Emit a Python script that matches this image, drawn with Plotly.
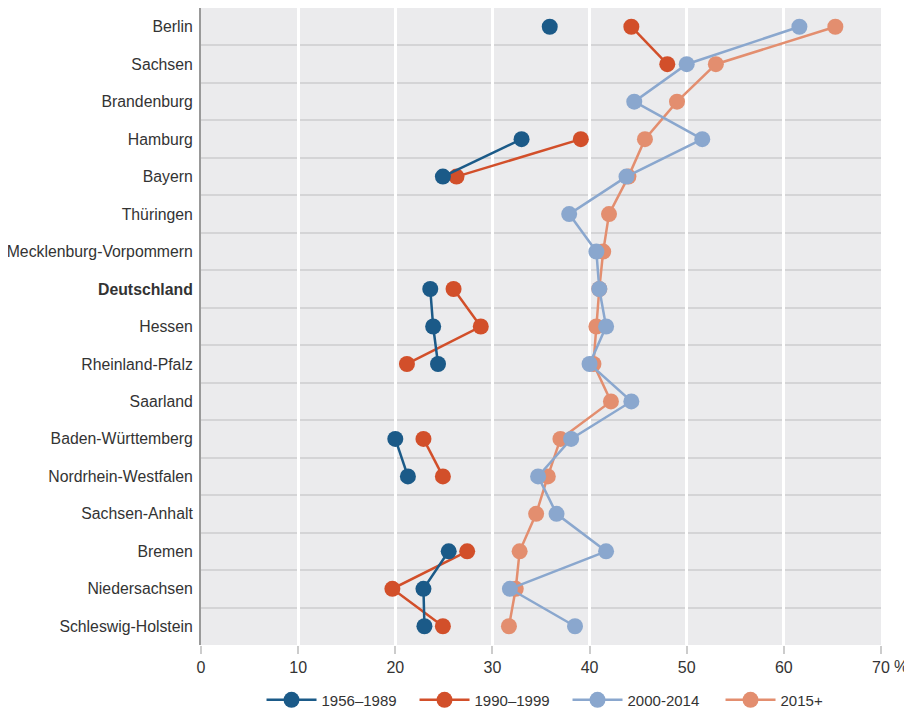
import plotly.graph_objects as go

states = ["Berlin", "Sachsen", "Brandenburg", "Hamburg", "Bayern", "Thüringen",
          "Mecklenburg-Vorpommern", "Deutschland", "Hessen", "Rheinland-Pfalz",
          "Saarland", "Baden-Württemberg", "Nordrhein-Westfalen", "Sachsen-Anhalt",
          "Bremen", "Niedersachsen", "Schleswig-Holstein"]

p1956_1989 = [35.9, None, None, 33.0, 24.9, None, None, 23.6, 23.9, 24.4,
              None, 20.0, 21.3, None, 25.5, 22.9, 23.0]
p1990_1999 = [44.3, 48.0, None, 39.1, 26.3, None, None, 26.0, 28.8, 21.2,
              None, 22.9, 24.9, None, 27.4, 19.7, 24.9]
p2000_2014 = [61.6, 50.0, 44.6, 51.6, 43.8, 37.9, 40.7, 41.0, 41.7, 40.0,
              44.3, 38.1, 34.7, 36.6, 41.7, 31.8, 38.5]
p2015 = [65.3, 53.0, 49.0, 45.7, 44.0, 42.0, 41.4, 41.0, 40.7, 40.4,
         42.2, 37.0, 35.7, 34.5, 32.8, 32.4, 31.7]

x_ticks = [0, 10, 20, 30, 40, 50, 60, 70]

ypos = list(range(len(states)))
ticktext = [f"<b>{s}</b>" if s == "Deutschland" else s for s in states]

series = [
    ("2015+", p2015, "#e38e6f", 4),
    ("2000-2014", p2000_2014, "#8aa7ce", 3),
    ("1990–1999", p1990_1999, "#d24f2a", 2),
    ("1956–1989", p1956_1989, "#1b5a88", 1),
]

fig = go.Figure()
for name, vals, col, rank in series:
    fig.add_trace(go.Scatter(
        x=vals, y=ypos, name=name, mode="lines+markers",
        line=dict(color=col, width=2.5),
        marker=dict(color=col, size=16),
        connectgaps=False, legendrank=rank,
    ))

fig.update_layout(
    width=904, height=704,
    margin=dict(l=193, r=31, t=0, b=67, autoexpand=False),
    paper_bgcolor="white",
    plot_bgcolor="#ebebed",
    font=dict(family="Liberation Sans, Arial, sans-serif", size=16, color="#333333"),
    showlegend=True,
    legend=dict(orientation="h", yref="container", y=0.017, yanchor="middle",
                x=0.089, xanchor="left",
                font=dict(size=15, color="#333333"), itemwidth=50,
                entrywidth=88, entrywidthmode="pixels",
                traceorder="normal"),
    xaxis=dict(range=[0, 70], tickvals=x_ticks, showgrid=True, gridcolor="white",
               gridwidth=3, zeroline=False, ticks="outside", ticklen=8,
               tickcolor="#cccccc", tickwidth=2, showline=False, automargin=False,
               tickfont=dict(size=16)),
    yaxis=dict(range=[16.5, -0.5], tickvals=ypos, ticktext=ticktext,
               showgrid=False, zeroline=False, showline=True, linecolor="#999999",
               linewidth=2, ticks="", ticklabelstandoff=3, automargin=False,
               tickfont=dict(size=15.8),
               minor=dict(tick0=0.5, dtick=1, showgrid=True, gridcolor="#d4d4d6",
                          gridwidth=1.5, ticks="")),
)

fig.add_annotation(text="%", xref="paper", yref="paper", x=1.0, y=-0.0345,
                   xanchor="left", yanchor="middle", xshift=11, showarrow=False,
                   font=dict(size=16))

fig.write_html("out.html")
